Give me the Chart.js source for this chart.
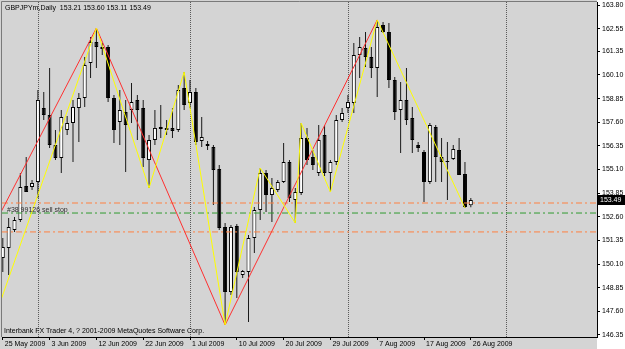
<!DOCTYPE html>
<html><head><meta charset="utf-8">
<script src="https://cdn.jsdelivr.net/npm/chart.js@4.4.1/dist/chart.umd.min.js"></script>
<style>html,body{margin:0;padding:0;background:#fff}canvas{display:block}</style>
</head><body>
<canvas id="c" width="625" height="349"></canvas>
<script>
// ---- data (GBPJPYm, Daily; bar index 0 = 25 May 2009, Sunday bars included) ----
const opens = [150.42,150.95,151.90,152.43,154.23,154.18,154.44,158.35,157.98,156.40,
155.71,157.19,157.56,158.35,158.88,160.73,161.84,161.58,161.58,158.88,
157.61,158.14,158.25,158.78,158.35,155.60,156.66,157.24,157.30,157.30,
157.19,159.41,158.62,159.20,156.61,156.45,156.29,155.13,152.06,148.62,
152.11,149.52,149.68,151.48,152.96,154.92,153.75,154.02,154.44,155.50,
153.49,153.86,156.77,155.76,154.92,156.93,154.92,155.50,157.72,158.35,
158.62,161.16,161.53,161.05,160.47,162.74,162.37,159.83,158.25,158.78,
157.83,156.40,156.03,154.44,157.35,155.76,155.55,155.66,156.13,154.86,
153.21];
const highs = [151.48,152.54,152.59,154.92,155.76,154.55,159.31,159.20,160.47,157.19,
158.25,157.93,158.78,159.15,161.05,162.11,162.58,161.79,161.69,159.04,
159.31,158.78,159.68,159.04,158.78,156.93,158.25,158.51,157.72,158.35,
159.57,160.26,159.83,159.41,157.88,156.61,156.40,155.34,152.27,152.17,
152.22,149.79,151.64,153.12,155.18,155.08,154.65,154.55,156.50,155.60,
154.12,157.56,157.30,156.13,157.45,157.45,155.60,157.98,158.35,159.04,
161.79,162.11,162.37,161.58,163.01,162.90,162.85,159.99,159.73,160.47,
158.41,156.56,156.13,157.56,157.45,156.77,156.56,156.40,156.77,155.50,
153.60];
const lows = [149.68,149.52,151.80,152.33,153.91,154.02,153.59,157.72,156.24,155.60,
154.92,156.93,155.50,156.56,158.41,159.94,160.47,161.16,158.67,156.50,
156.40,154.97,157.56,156.66,155.23,154.12,156.40,156.77,156.93,156.77,
157.08,158.25,158.35,156.40,156.29,156.13,153.22,151.90,146.88,148.47,
148.31,149.36,147.04,150.69,152.43,152.85,152.33,153.91,154.39,153.38,
152.27,153.75,155.34,155.08,154.76,154.76,153.91,155.34,157.61,158.09,
158.09,159.94,160.52,159.94,158.94,162.32,159.41,157.72,155.97,157.45,
155.97,156.03,153.38,154.33,154.44,154.44,153.49,155.60,154.81,153.07,
153.11];
const closes = [151.00,152.06,152.43,154.18,153.91,154.39,158.78,157.98,156.40,155.71,
157.88,157.56,158.41,158.88,160.63,161.84,161.58,161.47,158.88,157.19,
158.25,157.45,158.67,158.25,155.71,156.66,157.30,157.35,157.19,157.14,
159.31,158.51,159.20,156.56,156.82,156.35,155.08,152.01,148.62,152.06,
149.68,149.73,151.48,152.96,154.92,153.75,154.12,154.44,155.50,153.59,
153.91,156.77,155.60,155.34,156.66,154.92,155.50,157.72,158.09,158.67,
161.16,161.58,161.05,160.47,162.64,162.37,159.83,158.14,158.78,157.72,
156.66,156.24,154.44,157.45,155.76,155.50,155.50,156.19,154.81,153.12,
153.49];

// ZigZag turning points: bar index and price
const zigSmallIdx   = [-2, 16, 25, 31, 38, 44, 50, 51, 56, 64, 79];
const zigSmallPrice = [146.71, 162.58, 154.12, 160.26, 146.88, 155.18, 152.27, 157.56, 153.91, 163.01, 153.07];
const zigBigIdx     = [-11, 16, 38, 64];
const zigBigPrice   = [146.48, 162.58, 146.88, 163.01];

// order levels
const orderStopLoss   = 153.33;
const orderEntry      = 152.80;
const orderTakeProfit = 151.80;
const orderLabel = '#38 99126 sell stop';

// month separators (bar index)
const monthSepIdx = [6, 32, 59, 86];

// axis ticks
const xTickIdx = [0, 8, 16, 24, 32, 40, 48, 56, 64, 72, 80];
const xTickLabels = ['25 May 2009','3 Jun 2009','12 Jun 2009','22 Jun 2009','1 Jul 2009','10 Jul 2009','20 Jul 2009','29 Jul 2009','7 Aug 2009','17 Aug 2009','26 Aug 2009'];
const yTicks = [163.80,162.55,161.35,160.10,158.85,157.60,156.35,155.10,153.85,152.60,151.35,150.10,148.85,147.60,146.35];

const titleText = 'GBPJPYm,Daily  153.21 153.60 153.11 153.49';
const footerText = 'Interbank FX Trader 4, ? 2001-2009 MetaQuotes Software Corp.';

// ---- view range ----
const X_MIN = -0.137, X_MAX = 101.57;
const Y_MIN = 146.244, Y_MAX = 163.959;
const FONT = 'Liberation Sans, Arial, sans-serif';

const wickData = highs.map((h, i) => ({x: i, y: [lows[i], h]}));
const bodyData = opens.map((o, i) => ({x: i, y: [o, closes[i]]}));
const bodyColors = opens.map((o, i) => closes[i] >= o ? '#ffffff' : '#000000');
const zigSmall = zigSmallIdx.map((x, i) => ({x, y: zigSmallPrice[i]}));
const zigBig = zigBigIdx.map((x, i) => ({x, y: zigBigPrice[i]}));
const hline = v => [{x: X_MIN, y: v}, {x: X_MAX, y: v}];

const bgPlugin = {
  id: 'bg',
  beforeDraw(chart) {
    const {ctx, chartArea: a, width, height} = chart;
    ctx.save();
    ctx.fillStyle = '#d4d4d4';
    ctx.fillRect(0, 0, width, height);
    ctx.fillStyle = '#ffffff';
    ctx.fillRect(a.right, 0, width - a.right, height);
    ctx.strokeStyle = '#7a7a7a';
    ctx.lineWidth = 1;
    ctx.beginPath();
    ctx.moveTo(1.5, a.bottom); ctx.lineTo(1.5, 1.5); ctx.lineTo(a.right, 1.5);
    ctx.stroke();
    ctx.restore();
  },
  beforeDatasetsDraw(chart) {
    const {ctx, chartArea: a, scales} = chart;
    ctx.save();
    ctx.strokeStyle = '#5a5a5a';
    ctx.lineWidth = 1;
    ctx.setLineDash([1, 1]);
    monthSepIdx.forEach(i => {
      const px = Math.round(scales.x.getPixelForValue(i)) + 0.5;
      ctx.beginPath(); ctx.moveTo(px, a.top); ctx.lineTo(px, a.bottom); ctx.stroke();
    });
    ctx.restore();
  },
  afterDraw(chart) {
    const {ctx, chartArea: a, scales, width} = chart;
    ctx.save();
    ctx.font = '7px ' + FONT;
    ctx.fillStyle = '#000';
    ctx.textBaseline = 'alphabetic';
    ctx.textAlign = 'left';
    ctx.fillText(titleText, 5, 9.5);
    ctx.fillText(footerText, 4, 332.5);
    ctx.fillStyle = '#303030';
    ctx.fillText(orderLabel, 7, scales.y.getPixelForValue(orderEntry) - 1.5);
    // current price box
    const last = closes[closes.length - 1];
    const py = scales.y.getPixelForValue(last);
    ctx.fillStyle = '#000';
    ctx.fillRect(a.right + 1, Math.round(py) - 5, width - a.right - 1, 10);
    ctx.fillStyle = '#fff';
    ctx.textBaseline = 'middle';
    ctx.fillText(last.toFixed(2), a.right + 3, py + 0.5);
    ctx.restore();
  }
};

new Chart(document.getElementById('c'), {
  type: 'bar',
  data: {
    datasets: [
      {type: 'line', label: 'ZigZag small', data: zigSmall, borderColor: '#ffff00', borderWidth: 1, pointRadius: 0, tension: 0, fill: false, order: 0},
      {type: 'line', label: 'ZigZag big', data: zigBig, borderColor: '#ff3030', borderWidth: 1, pointRadius: 0, tension: 0, fill: false, order: 0},
      {type: 'line', label: 'SL', data: hline(orderStopLoss), borderColor: '#ff8040', borderWidth: 1, borderDash: [6, 3, 2, 3], pointRadius: 0, fill: false, order: 1},
      {type: 'line', label: 'Entry', data: hline(orderEntry), borderColor: '#2f9a2f', borderWidth: 1, borderDash: [6, 3, 2, 3], pointRadius: 0, fill: false, order: 1},
      {type: 'line', label: 'TP', data: hline(orderTakeProfit), borderColor: '#ff8040', borderWidth: 1, borderDash: [6, 3, 2, 3], pointRadius: 0, fill: false, order: 1},
      {label: 'Body', data: bodyData, backgroundColor: bodyColors, borderColor: '#000', borderWidth: 1, borderSkipped: false, barThickness: 4, grouped: false, minBarLength: 1, inflateAmount: 0, order: 2},
      {label: 'Wick', data: wickData, backgroundColor: '#1a1a1a', borderWidth: 0, barThickness: 1, grouped: false, inflateAmount: 0, order: 3}
    ]
  },
  options: {
    responsive: false,
    devicePixelRatio: 1,
    animation: false,
    events: [],
    layout: {padding: {left: 2, top: 2, right: 0, bottom: 0}},
    plugins: {legend: {display: false}, tooltip: {enabled: false}, title: {display: false}},
    scales: {
      x: {
        type: 'linear', position: 'bottom', min: X_MIN, max: X_MAX, offset: false,
        afterBuildTicks: s => { s.ticks = xTickIdx.map(v => ({value: v})); },
        afterFit: s => { s.height = 12; s.paddingLeft = 0; s.paddingRight = 0; },
        ticks: {autoSkip: false, maxRotation: 0, minRotation: 0, align: 'start', labelOffset: 2, padding: 0,
          font: {family: FONT, size: 7}, color: '#000', callback: (v, idx) => xTickLabels[idx]},
        grid: {offset: false, drawOnChartArea: false, drawTicks: true, tickLength: 3, color: '#000'},
        border: {display: true, color: '#000'}
      },
      y: {
        type: 'linear', position: 'right', min: Y_MIN, max: Y_MAX,
        afterBuildTicks: s => { s.ticks = yTicks.map(v => ({value: v})); },
        afterFit: s => { s.width = 28; s.paddingTop = 0; s.paddingBottom = 0; },
        ticks: {autoSkip: false, padding: 2, font: {family: FONT, size: 7}, color: '#000',
          callback: v => Number(v).toFixed(2)},
        grid: {drawOnChartArea: false, drawTicks: true, tickLength: 3, color: '#000'},
        border: {display: true, color: '#000'}
      }
    }
  },
  plugins: [bgPlugin]
});
</script>
</body></html>
